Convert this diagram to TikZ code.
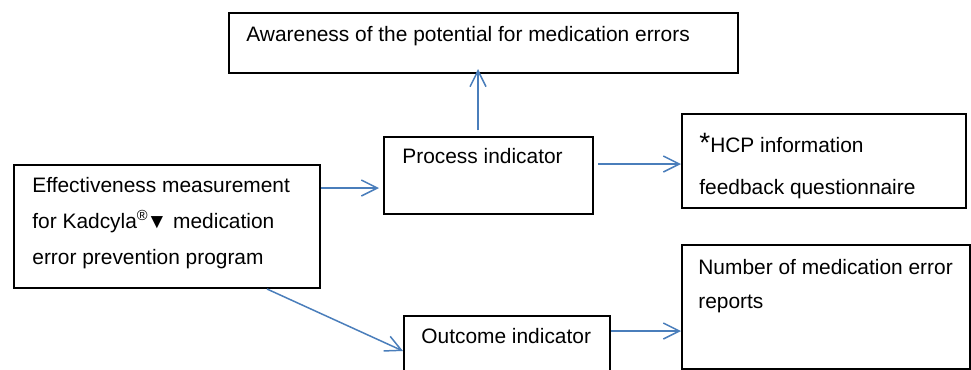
\documentclass[tikz,border=0pt]{standalone}
\usepackage{fontspec}
\setmainfont{Liberation Sans}
\usetikzlibrary{arrows.meta,positioning,calc}
\definecolor{lineblue}{RGB}{74,126,187}

\begin{document}
\begin{tikzpicture}[
    x=0.5pt, y=-0.5pt,
    box/.style={rectangle, draw, line width=1pt, inner sep=0pt, anchor=north west},
    txt/.style={inner sep=0pt, anchor=base west, align=left, font=\fontsize{10.45}{18}\selectfont},
    arrow/.style={-{Straight Barb[length=8pt,width=8pt]}, line width=0.75pt, lineblue}
]
    \useasboundingbox (0,0) rectangle (971,370);

    % Awareness
    \node[box, minimum width=254.5pt, minimum height=30pt] (aware) at (228,12) {};
    \node[txt] (aware-t) at ([shift={(18,29)}]aware.north west) {Awareness of the potential for medication errors};

    % Process indicator
    \node[box, minimum width=104.5pt, minimum height=38.5pt] (proc) at (383,136) {};
    \node[txt] (proc-t) at ([shift={(19,27)}]proc.north west) {Process indicator};

    % HCP questionnaire (base = last line)
    \node[box, minimum width=142pt, minimum height=47pt] (hcp) at (681,113) {};
    \node[txt, font=\fontsize{10.45}{21}\selectfont] (hcp-t) at ([shift={(18,81)}]hcp.north west)
        {{\fontsize{14}{14}\selectfont *}HCP information\\feedback questionnaire};

    % Effectiveness measurement
    \node[box, minimum width=153pt, minimum height=61.5pt] (eff) at (13,164) {};
    \node[txt] (eff-t) at ([shift={(19,100)}]eff.north west)
        {Effectiveness measurement\\for Kadcyla\textsuperscript{®}\kern-1pt▼ medication\\error prevention program};

    % Outcome indicator
    \node[box, minimum width=103pt, minimum height=35pt] (outc) at (403,315) {};
    \node[txt] (outc-t) at ([shift={(18,28)}]outc.north west) {Outcome indicator};

    % Number of reports
    \node[box, minimum width=144pt, minimum height=62pt] (num) at (681,244) {};
    \node[txt, font=\fontsize{10.45}{17}\selectfont] (num-t) at ([shift={(17,64)}]num.north west)
        {Number of medication error\\reports};

    % Arrows
    \draw[arrow, shorten >=2pt] (eff.east |- 0,188) -- (proc.west |- 0,188);
    \draw[arrow, shorten <=3pt, shorten >=-2.5pt] (478,0 |- proc.north) -- (478,0 |- aware.south);
    \draw[arrow, shorten <=2pt] (proc.east |- 0,164) -- (hcp.west |- 0,164);
    \draw[arrow] (267,0 |- eff.south) -- (outc.west |- 0,351);
    \draw[arrow] (outc.east |- 0,331) -- (num.west |- 0,331);
\end{tikzpicture}
\end{document}
